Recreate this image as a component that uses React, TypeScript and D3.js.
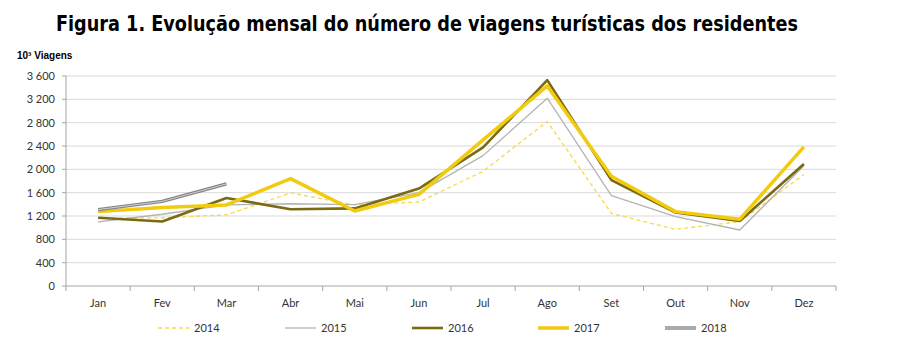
import React from "react";
import * as d3 from "d3";

const months = ["Jan", "Fev", "Mar", "Abr", "Mai", "Jun", "Jul", "Ago", "Set", "Out", "Nov", "Dez"];
const yTicks = [0, 400, 800, 1200, 1600, 2000, 2400, 2800, 3200, 3600];
const s2014 = [1160, 1170, 1220, 1595, 1390, 1440, 1965, 2820, 1245, 970, 1105, 1910];
const s2015 = [1100, 1230, 1390, 1410, 1395, 1600, 2235, 3220, 1550, 1190, 960, 2060];
const s2016 = [1170, 1105, 1510, 1315, 1330, 1670, 2375, 3530, 1815, 1260, 1115, 2090];
const s2017 = [1275, 1345, 1390, 1840, 1285, 1570, 2505, 3430, 1880, 1275, 1145, 2385];
const s2018 = [1310, 1450, 1750];

const W = 900, H = 355;
const left = 66, right = 836, top = 76, bottom = 286;

type Style = { color: string; width: number; dash?: string; inner?: string };
const series: { name: string; values: number[]; style: Style }[] = [
  { name: "2014", values: s2014, style: { color: "#f7d94c", width: 1.3, dash: "4,3" } },
  { name: "2015", values: s2015, style: { color: "#b3b3b3", width: 1.3 } },
  { name: "2016", values: s2016, style: { color: "#7a6a12", width: 2.6 } },
  { name: "2017", values: s2017, style: { color: "#f2cb0f", width: 3.5 } },
  { name: "2018", values: s2018, style: { color: "#858585", width: 3.4, inner: "#cfcfcf" } },
];

const fmt = (v: number) => {
  const s = String(v);
  return s.length > 3 ? s.slice(0, s.length - 3) + " " + s.slice(-3) : s;
};

export default function App() {
  const x = d3.scaleBand<string>().domain(months).range([left, right]);
  const y = d3.scaleLinear().domain([0, 3600]).range([bottom, top]);
  const line = d3
    .line<number>()
    .x((_, i) => (x(months[i]) as number) + x.bandwidth() / 2)
    .y((d) => y(d));
  const font = "Lato, 'Open Sans', sans-serif";
  const legendX = [158, 285, 412, 538, 665];
  return (
    <svg width={W} height={H} style={{ position: "absolute", left: 0, top: 0, background: "#fff" }}>
      <text
        x={56}
        y={31}
        fontFamily="'DejaVu Sans Condensed', 'DejaVu Sans', sans-serif"
        fontWeight="bold"
        fontSize={21}
        textLength={742}
        lengthAdjust="spacingAndGlyphs"
        fill="#000"
      >
        Figura 1. Evolução mensal do número de viagens turísticas dos residentes
      </text>
      <text x={17} y={59} fontFamily="'Liberation Sans', Arial, sans-serif" fontWeight="bold" fontSize={10} fill="#000">
        10³ Viagens
      </text>
      {yTicks.map((t) => (
        <g key={t}>
          {t > 0 && <line x1={left} x2={right} y1={y(t)} y2={y(t)} stroke="#d9d9d9" strokeWidth={1} />}
          <line x1={left - 4} x2={left} y1={y(t)} y2={y(t)} stroke="#a6a6a6" strokeWidth={1} />
          <text x={55} y={y(t)} dy="0.35em" textAnchor="end" fontFamily={font} fontSize={11} fill="#333">
            {fmt(t)}
          </text>
        </g>
      ))}
      <line x1={left} x2={left} y1={top} y2={bottom} stroke="#a6a6a6" strokeWidth={1} />
      <line x1={left} x2={right} y1={bottom} y2={bottom} stroke="#a6a6a6" strokeWidth={1} />
      {months.map((m) => (
        <line
          key={"t" + m}
          x1={x(m) as number}
          x2={x(m) as number}
          y1={bottom}
          y2={bottom + 5}
          stroke="#a6a6a6"
        />
      ))}
      <line x1={right} x2={right} y1={bottom} y2={bottom + 5} stroke="#a6a6a6" />
      {months.map((m) => (
        <text
          key={m}
          x={(x(m) as number) + x.bandwidth() / 2}
          y={303}
          dy="0.35em"
          textAnchor="middle"
          fontFamily={font}
          fontSize={11}
          fill="#333"
        >
          {m}
        </text>
      ))}
      {series.map((s) => (
        <g key={s.name}>
          <path
            d={line(s.values) || ""}
            fill="none"
            stroke={s.style.color}
            strokeWidth={s.style.width}
            strokeDasharray={s.style.dash}
            strokeLinejoin="round"
          />
          {s.style.inner && (
            <path d={line(s.values) || ""} fill="none" stroke={s.style.inner} strokeWidth={1} strokeLinejoin="round" />
          )}
        </g>
      ))}
      {series.map((s, i) => (
        <g key={"lg" + s.name}>
          <line
            x1={legendX[i]}
            x2={legendX[i] + 31}
            y1={328}
            y2={328}
            stroke={s.style.color}
            strokeWidth={s.style.width}
            strokeDasharray={s.style.dash}
          />
          {s.style.inner && (
            <line x1={legendX[i]} x2={legendX[i] + 31} y1={328} y2={328} stroke={s.style.inner} strokeWidth={1} />
          )}
          <text x={legendX[i] + 36} y={328} dy="0.35em" fontFamily={font} fontSize={11} fill="#333">
            {s.name}
          </text>
        </g>
      ))}
    </svg>
  );
}
